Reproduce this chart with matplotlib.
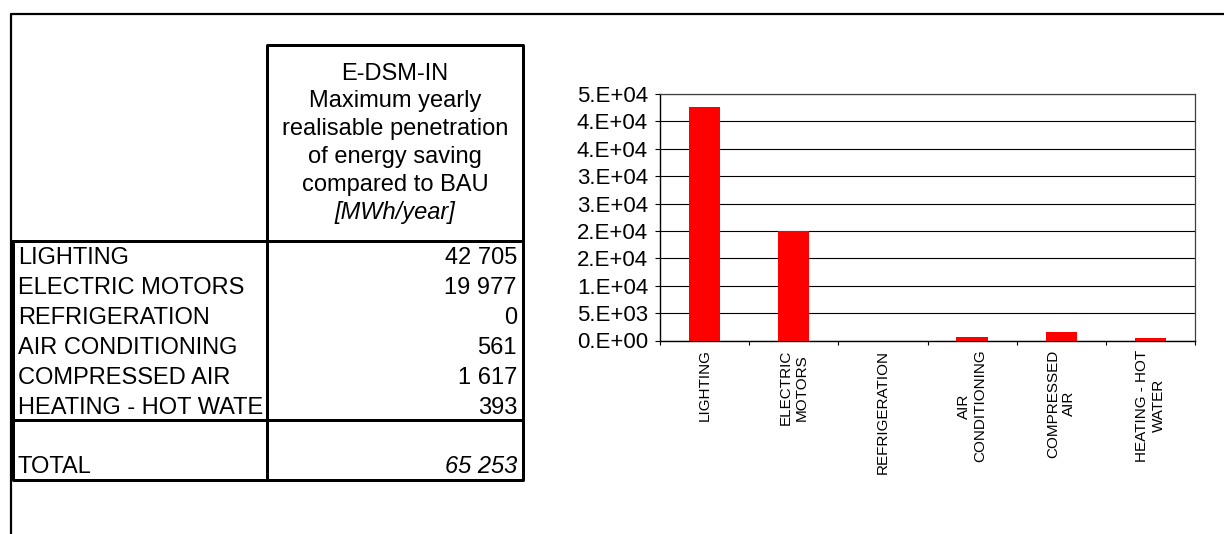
import math
import matplotlib
matplotlib.use("Agg")
import matplotlib.pyplot as plt
from matplotlib.patches import Rectangle
from matplotlib.ticker import FuncFormatter, FixedLocator

plt.rcParams['font.family'] = ['Liberation Sans', 'DejaVu Sans']

# ---- data ----
table_rows = ["LIGHTING", "ELECTRIC MOTORS", "REFRIGERATION", "AIR CONDITIONING",
              "COMPRESSED AIR", "HEATING - HOT WATER"]
chart_labels = ["LIGHTING", "ELECTRIC\nMOTORS", "REFRIGERATION", "AIR\nCONDITIONING",
                "COMPRESSED\nAIR", "HEATING - HOT\nWATER"]
values = [42705, 19977, 0, 561, 1617, 393]
header_lines = ["E-DSM-IN", "Maximum yearly", "realisable penetration",
                "of energy saving", "compared to BAU"]
header_unit = "[MWh/year]"
total_label = "TOTAL"
y_max = 45000
y_step = 5000

W, H = 1224, 534
fig = plt.figure(figsize=(W / 100, H / 100), dpi=100)

# overlay axes in pixel coordinates for table & frame
ov = fig.add_axes([0, 0, 1, 1])
ov.set_xlim(0, W)
ov.set_ylim(H, 0)
ov.axis('off')

def px(lw):
    return lw * 0.72

# outer frame
ov.plot([11, 11, W], [H, 14, 14], color='black', lw=px(2.2), solid_capstyle='projecting')

tl = px(3)
# header box
ov.plot([267, 267, 523, 523], [241, 45, 45, 241], color='black', lw=tl, solid_capstyle='projecting')
# body box
ov.plot([13, 523, 523, 13, 13], [241, 241, 480, 480, 241], color='black', lw=tl, solid_capstyle='projecting')
ov.plot([267, 267], [241, 480], color='black', lw=tl)
ov.plot([13, 523], [420, 420], color='black', lw=tl)

fs = 17
# header text, one line per row
for i, line in enumerate(header_lines):
    ov.text(395, 79.5 + 28 * i, line, ha='center', va='baseline', fontsize=fs)
ov.text(395, 79.5 + 28 * len(header_lines), header_unit, ha='center', va='baseline',
        fontsize=fs, style='italic')

clip = Rectangle((13, 241), 252, 240, transform=ov.transData, fill=False, visible=False)
ov.add_patch(clip)

def fmt_num(v):
    return f"{v:,}".replace(",", " ")

row_top = 241
row_h = 30
for i, (name, v) in enumerate(zip(table_rows, values)):
    yb = row_top + row_h * i + row_h / 2 + 8.5
    t = ov.text(18, yb, name, ha='left', va='baseline', fontsize=fs)
    t.set_clip_on(True)
    t.set_clip_path(clip)
    ov.text(517, yb, fmt_num(v), ha='right', va='baseline', fontsize=fs)

total = sum(values)
ov.text(18, 473, total_label, ha='left', va='baseline', fontsize=fs)
ov.text(517, 473, fmt_num(total), ha='right', va='baseline', fontsize=fs, style='italic')

# ---- bar chart ----
left, right, top, bottom = 660, 1195, 94, 340.5
ax = fig.add_axes([left / W, (H - bottom) / H, (right - left) / W, (bottom - top) / H])
ax.set_facecolor('none')
x = list(range(len(values)))
ax.bar(x, values, width=0.35, color='#FF0000', zorder=3)
ax.set_xlim(-0.5, len(values) - 0.5)
ax.set_ylim(0, y_max)

yt = list(range(0, y_max + 1, y_step))
ax.set_yticks(yt)

def excel_fmt(v, pos=None):
    if v == 0:
        return "0.E+00"
    e = int(math.floor(math.log10(abs(v))))
    m = v / 10 ** e
    mr = int(math.floor(m + 0.5))
    if mr >= 10:
        mr //= 10
        e += 1
    return f"{mr}.E+{e:02d}"

ax.yaxis.set_major_formatter(FuncFormatter(excel_fmt))
ax.grid(axis='y', color='black', lw=0.8, zorder=1)
ax.tick_params(axis='y', direction='out', length=3.6, width=0.8, pad=5, labelsize=16)

ax.set_xticks(x)
ax.set_xticklabels(chart_labels, rotation=90, fontsize=11, ha='center', va='top',
                   multialignment='center')
ax.tick_params(axis='x', which='major', length=0, pad=6.5)
ax.xaxis.set_minor_locator(FixedLocator([i - 0.5 for i in range(len(values) + 1)]))
ax.tick_params(axis='x', which='minor', direction='out', length=3, width=0.8)

for s in ['left', 'bottom']:
    ax.spines[s].set_color('black')
    ax.spines[s].set_linewidth(1.0)
for s in ['top', 'right']:
    ax.spines[s].set_color('#404040')
    ax.spines[s].set_linewidth(0.9)

fig.savefig("out.png", dpi=100)
